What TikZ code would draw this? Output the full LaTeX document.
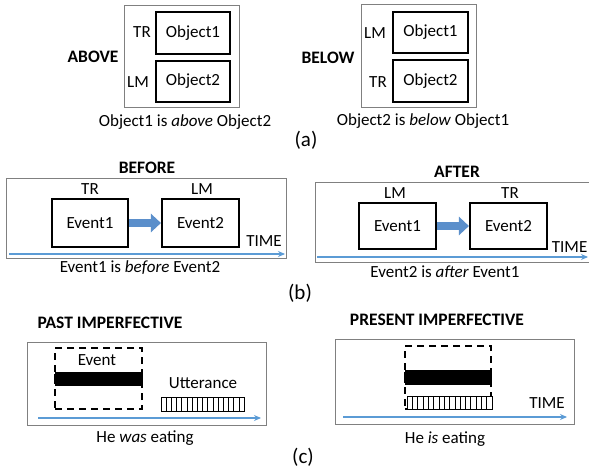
\documentclass[tikz,border=0pt]{standalone}
\usepackage{fontspec}
\setmainfont{Carlito}
\usetikzlibrary{arrows.meta}
\definecolor{tblue}{HTML}{5B9BD5}
\definecolor{ablue}{HTML}{5B8FCB}
\begin{document}
\begin{tikzpicture}[x=1pt,y=-1pt,
  frame/.style={draw=black!50, line width=0.8pt, minimum width=#1, inner sep=0pt},
  objbox/.style={draw=black, line width=2.1pt, inner sep=0pt, font=\fontsize{17}{19}\selectfont},
  lbl/.style={font=\fontsize{17}{19}\selectfont, inner sep=0pt},
  ttl/.style={font=\bfseries\fontsize{17.5}{19}\selectfont, inner sep=0pt},
  sub/.style={font=\fontsize{21}{24}\selectfont, inner sep=0pt},
  timeline/.style={draw=tblue, line width=1.2pt, -{Stealth[length=7pt,width=6pt]}},
  bigarrow/.style={draw=ablue, line width=8pt, -{Triangle[length=10pt,width=18pt]}},
  dashbox/.style={draw=black, line width=2.1pt, dash pattern=on 7pt off 5pt, inner sep=0pt},
  evbar/.style={fill=black, draw=black, inner sep=0pt},
  utbar/.style={draw=black, line width=0.8pt, inner sep=0pt}
]
\useasboundingbox (0,0) rectangle (589,473);
\clip (0,0) rectangle (589,473);

% ---------- (a) left ----------
\node[frame=115pt, minimum height=102pt] (fa1) at (181.5,56) {};
\node[objbox, minimum width=74pt, minimum height=42pt] (o1a) at (193,33) {Object1};
\node[objbox, minimum width=74pt, minimum height=41pt] (o2a) at (193,81.5) {Object2};
\node[lbl] (tra) at (142,32) {TR};
\node[lbl] (lma) at (138,82) {LM};
\node[ttl] (above) at (93,57) {ABOVE};
\node[lbl] (capa1) at (185,122) {Object1 is \textit{above} Object2};

% ---------- (a) right ----------
\node[frame=115pt, minimum height=103pt] (fa2) at (418.5,55.5) {};
\node[objbox, minimum width=75pt, minimum height=41pt] (o1b) at (430.5,32.5) {Object1};
\node[objbox, minimum width=75pt, minimum height=42pt] (o2b) at (430.5,81) {Object2};
\node[lbl] (lmb) at (375,33) {LM};
\node[lbl] (trb) at (378,82) {TR};
\node[ttl] (below) at (328,58) {BELOW};
\node[lbl] (capa2) at (423,121) {Object2 is \textit{below} Object1};
\node[sub] (suba) at (306,140) {(a)};

% ---------- (b) left ----------
\node[ttl] (before) at (147,168) {BEFORE};
\node[frame=280pt, minimum height=80pt] (fb1) at (146,218) {};
\node[objbox, minimum width=76pt, minimum height=48pt] (e1a) at (90,223) {Event1};
\node[objbox, minimum width=77pt, minimum height=48pt] (e2a) at (200.5,223) {Event2};
\node[lbl] (trc) at (90,189) {TR};
\node[lbl] (lmc) at (202,189) {LM};
\node[lbl] (timea) at (264,241) {TIME};
\draw[bigarrow] (e1a.east) -- (e2a.west);
\coordinate (ta0) at (9,254);
\coordinate (ta1) at (285,254);
\draw[timeline] (ta0) -- (ta1);
\node[lbl] (capb1) at (140,268) {Event1 is \textit{before} Event2};

% ---------- (b) right ----------
\node[ttl] (after) at (457,172) {AFTER};
\node[frame=285pt, minimum height=80pt] (fb2) at (457.5,222) {};
\node[objbox, minimum width=77pt, minimum height=46pt] (e1b) at (397.5,226) {Event1};
\node[objbox, minimum width=77pt, minimum height=46pt] (e2b) at (508.5,226) {Event2};
\node[lbl] (lmd) at (395,193) {LM};
\node[lbl] (trd) at (510,193) {TR};
\node[lbl, anchor=east] (timeb) at (587.5,247) {TIME};
\draw[bigarrow] (e1b.east) -- (e2b.west);
\coordinate (tb0) at (317,257);
\coordinate (tb1) at (588,257);
\draw[timeline] (tb0) -- (tb1);
\node[lbl] (capb2) at (445,272) {Event2 is \textit{after} Event1};
\node[sub] (subb) at (300,293) {(b)};

% ---------- (c) left ----------
\node[ttl] (past) at (110,323) {PAST IMPERFECTIVE};
\node[frame=239pt, minimum height=83pt] (fc1) at (146.5,383.5) {};
\node[dashbox, minimum width=87pt, minimum height=61pt] (dba) at (98.5,378.5) {};
\node[lbl] (eva) at (97,360) {Event};
\node[evbar, minimum width=87pt, minimum height=13pt] (bara) at (98.5,379) {};
\draw[line width=1.2pt] ([yshift=2pt]bara.south west) -- ([yshift=-2pt]bara.north west);
\draw[line width=1.2pt] ([yshift=2pt]bara.south east) -- ([yshift=-2pt]bara.north east);
\node[lbl] (utt) at (203,383) {Utterance};
\node[utbar, minimum width=83pt, minimum height=14pt] (uba) at (202.5,404) {};
\foreach \i in {1,...,15} \draw[line width=0.6pt] ({161+\i*83/16},397) -- ({161+\i*83/16},411);
\coordinate (tc0) at (38,418);
\coordinate (tc1) at (261,418);
\draw[timeline] (tc0) -- (tc1);
\node[lbl] (capc1) at (145,438) {He \textit{was} eating};

% ---------- (c) right ----------
\node[ttl] (pres) at (437,320) {PRESENT IMPERFECTIVE};
\node[frame=239pt, minimum height=85pt] (fc2) at (454.5,381.5) {};
\node[dashbox, minimum width=86pt, minimum height=63pt] (dbb) at (448,377.5) {};
\node[evbar, minimum width=86pt, minimum height=14pt] (barb) at (448,377.5) {};
\draw[line width=1.2pt] ([yshift=2pt]barb.south west) -- ([yshift=-2pt]barb.north west);
\draw[line width=1.2pt] ([yshift=2pt]barb.south east) -- ([yshift=-2pt]barb.north east);
\node[utbar, fill=white, minimum width=85pt, minimum height=13pt] (ubb) at (449.5,402.5) {};
\foreach \i in {1,...,15} \draw[line width=0.6pt] ({407+\i*85/16},396) -- ({407+\i*85/16},409);
\node[lbl] (timec) at (547,403) {TIME};
\coordinate (td0) at (343,417);
\coordinate (td1) at (567,417);
\draw[timeline] (td0) -- (td1);
\node[lbl] (capc2) at (445,439) {He \textit{is} eating};
\node[sub] (subc) at (303,457) {(c)};
\end{tikzpicture}
\end{document}
